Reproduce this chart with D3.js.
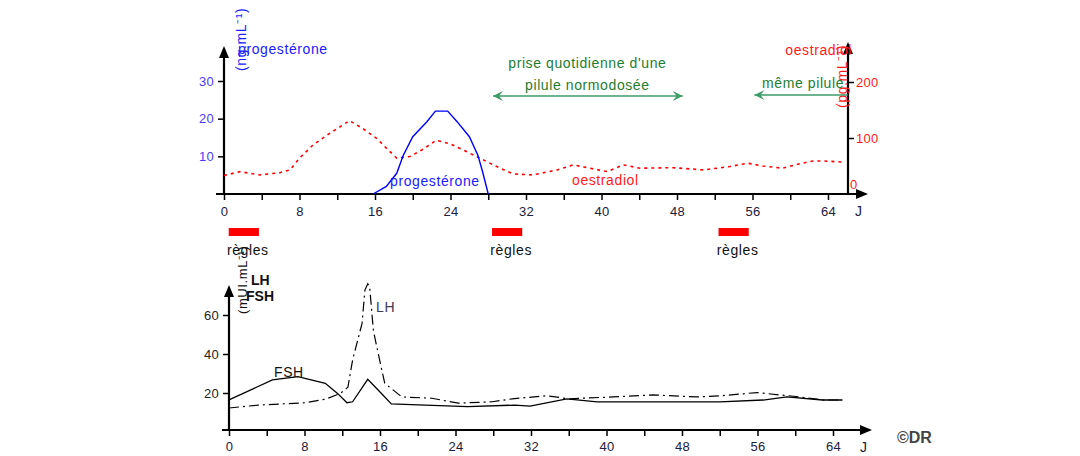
<!DOCTYPE html>
<html>
<head>
<meta charset="utf-8">
<script src="https://cdn.jsdelivr.net/npm/d3@7"></script>
<style>
body { margin: 0; background: #fff; }
svg { font-family: "Liberation Sans", Arial, sans-serif; font-size: 14px; letter-spacing: 0.6px; }
svg .tick text { letter-spacing: 0.3px; }
</style>
</head>
<body>
<svg class="chart" width="1080" height="456"></svg>
<script>

// top panel: ovarian hormones (days of cycle)
var progDays = [15.8, 17.2, 18.3, 19, 20, 21.5, 22.4, 23.7, 24.7, 26, 26.9, 27.4, 28];
var progVals = [0, 2, 5.5, 10.3, 15.2, 19.2, 22, 22, 19.2, 15.2, 10.3, 5.9, 0];

var oesDays = [0, 1.7, 3.8, 5.9, 7, 8, 9.4, 10.9, 12.3, 13.3, 14.7, 16.2, 17.2, 18.3, 19.7, 21, 22.5, 23.9, 25.3, 27.1, 28.9, 30.6, 32.7, 35.3, 37, 38.8, 40.6, 42.3, 44.1, 47.6, 50.8, 53.6, 55.5, 57.1, 59.2, 61, 62.4, 63.5, 65.6];
var oesVals = [33, 40, 34, 38, 43, 64, 87, 105, 120, 131, 117, 99, 82, 64, 67, 79, 96, 90, 79, 64, 49, 36, 34, 43, 52, 46, 40, 52, 46, 47, 43, 49, 55, 50, 46, 54, 59, 59, 57];

// bottom panel: pituitary hormones
var fshDays = [0, 4.6, 7.3, 10.2, 11.5, 12.5, 13.1, 14.7, 15.8, 17.2, 20.8, 25.3, 30.3, 31.9, 35.8, 39, 45, 52, 56.6, 59.1, 62.9, 65];
var fshVals = [16.5, 26.7, 28.4, 25, 19.8, 15, 15.5, 27, 21.5, 14.4, 13.8, 13, 13.8, 13.3, 17, 15.5, 15.5, 15.5, 16.4, 18, 16.4, 16.4];

var lhDays = [0, 3.1, 8, 10.2, 11.8, 12.6, 13.1, 14.1, 14.4, 14.7, 14.9, 15.3, 15.8, 16.5, 18.3, 21.5, 24.3, 27.9, 30, 33.7, 36, 40.7, 44.9, 49.6, 52, 54.9, 56, 58.4, 60.5, 63, 65];
var lhVals = [12.3, 13.8, 15, 16.8, 19.8, 23, 37, 55.7, 72.8, 76, 74.5, 52, 40.5, 25, 18, 17.3, 14.8, 15.5, 17, 18.6, 17, 18, 19, 18, 18.5, 19.8, 20.2, 19, 18, 16.4, 16.4];

// periods (règles) and pill intake, in days
var reglesStart = [0.5, 28.4, 52.4];
var reglesEnd = [3.7, 31.6, 55.6];
var pillStart = [28.5, 56.2];
var pillEnd = [48.6, 66.1];

var dayTicks = d3.range(0, 65, 4);
var progTicks = [10, 20, 30];
var oesTicks = [0, 100, 200];
var gonTicks = [20, 40, 60];

var svg = d3.select(".chart");

var xTop = d3.scaleLinear().domain([0, 64]).range([224, 828]);
var yProg = d3.scaleLinear().domain([0, 30]).range([194, 81]);
var yOes = d3.scaleLinear().domain([0, 200]).range([194, 82]);

var xBot = d3.scaleLinear().domain([0, 64]).range([229, 833]);
var yGon = d3.scaleLinear().domain([0, 60]).range([432, 315]);

function arrowUp(x, y) {
	svg.append("path").attr("d", "M" + x + "," + y + "l-5,12l10,0z").attr("fill", "#000");
}
function arrowRight(x, y) {
	svg.append("path").attr("d", "M" + x + "," + y + "l-12,-5l0,10z").attr("fill", "#000");
}
function axisLine(x1, y1, x2, y2) {
	svg.append("line").attr("x1", x1).attr("y1", y1).attr("x2", x2).attr("y2", y2)
		.attr("stroke", "#000").attr("stroke-width", 2.2);
}
function styleAxis(g, color) {
	g.select(".domain").remove();
	g.selectAll(".tick line").attr("stroke", "#000").attr("stroke-width", 1.5);
	g.selectAll(".tick text").attr("fill", color).style("font-size", "13px")
		.style("font-family", "'Liberation Sans', Arial, sans-serif");
}
function dayFormat(d) { return d % 8 == 0 ? d : ""; }

// ---------- top panel ----------
var gx = svg.append("g").attr("transform", "translate(0,194)")
	.call(d3.axisBottom(xTop).tickValues(dayTicks).tickSize(6).tickPadding(7).tickFormat(dayFormat));
styleAxis(gx, "#1c2040");

var gl = svg.append("g").attr("transform", "translate(224,0)")
	.call(d3.axisLeft(yProg).tickValues(progTicks).tickSize(6).tickPadding(4));
styleAxis(gl, "#4a3cf0");

var gr = svg.append("g").attr("transform", "translate(848,0)")
	.call(d3.axisRight(yOes).tickValues(oesTicks).tickSize(6).tickPadding(2));
styleAxis(gr, "#ff1a1a");
gr.selectAll(".tick").filter(function(d) { return d == 0; }).select("line").remove();
gr.selectAll(".tick text").filter(function(d) { return d == 0; }).attr("x", 2).attr("dy", "-0.4em");

axisLine(216, 194, 860, 194);
arrowRight(868, 194);
axisLine(224, 194, 224, 56);
arrowUp(224, 46);
axisLine(848, 194, 848, 52);
arrowUp(848, 42);

var oesLine = d3.line().x(function(d, i) { return xTop(oesDays[i]); }).y(function(d) { return yOes(d); });
svg.append("path").datum(oesVals).attr("d", oesLine)
	.attr("fill", "none").attr("stroke", "#ff0000").attr("stroke-width", 1.6).attr("stroke-dasharray", "3,4");

var progLine = d3.line().x(function(d, i) { return xTop(progDays[i]); }).y(function(d) { return yProg(d); });
svg.append("path").datum(progVals).attr("d", progLine)
	.attr("fill", "none").attr("stroke", "#0000ff").attr("stroke-width", 1.4);

svg.append("text").attr("x", 390).attr("y", 186).attr("fill", "#2020ff").text("progestérone");
svg.append("text").attr("x", 572).attr("y", 185).attr("fill", "#ff1a1a").text("oestradiol");

svg.append("text").attr("x", 238).attr("y", 54).attr("fill", "#2020ff").text("progestérone");
svg.append("text").attr("transform", "translate(246,71) rotate(-90)").attr("fill", "#2020ff")
	.text("(ng.mL⁻¹)");
svg.append("text").attr("x", 852).attr("y", 55).attr("text-anchor", "end").attr("fill", "#ff1a1a").text("oestradiol");
svg.append("text").attr("transform", "translate(847,108) rotate(-90)").attr("fill", "#ff1a1a")
	.text("(pg.mL⁻¹)");

// pill arrows
var green = "#3c9a68";
function greenArrow(x1, x2, y, both) {
	svg.append("line").attr("x1", x1).attr("y1", y).attr("x2", x2).attr("y2", y)
		.attr("stroke", green).attr("stroke-width", 1.3);
	svg.append("path").attr("d", "M" + x1 + "," + y + "l10,-5l-4,5l4,5z").attr("fill", green);
	if (both) svg.append("path").attr("d", "M" + x2 + "," + y + "l-10,-5l4,5l-4,5z").attr("fill", green);
}
greenArrow(xTop(pillStart[0]), xTop(pillEnd[0]), 96, true);
greenArrow(xTop(pillStart[1]), xTop(pillEnd[1]), 95, false);

svg.append("text").attr("x", xTop(38.5)).attr("y", 68).attr("text-anchor", "middle").attr("fill", "#1d7d30")
	.text("prise quotidienne d'une");
svg.append("text").attr("x", xTop(38.5)).attr("y", 90).attr("text-anchor", "middle").attr("fill", "#1d7d30")
	.text("pilule normodosée");
svg.append("text").attr("x", 762).attr("y", 88).attr("fill", "#1d7d30").text("même pilule");

// règles
svg.selectAll(".regle").data(reglesStart).enter().append("rect")
	.attr("class", "regle")
	.attr("x", function(d) { return xTop(d); })
	.attr("y", 228)
	.attr("width", function(d, i) { return xTop(reglesEnd[i]) - xTop(d); })
	.attr("height", 8)
	.attr("fill", "#ff0000");
svg.selectAll(".regleLabel").data(reglesStart).enter().append("text")
	.attr("x", function(d, i) { return (xTop(d) + xTop(reglesEnd[i])) / 2 + 4; })
	.attr("y", 255)
	.attr("text-anchor", "middle")
	.attr("fill", "#111")
	.text("règles");

// ---------- bottom panel ----------
var bx = svg.append("g").attr("transform", "translate(0,430)")
	.call(d3.axisBottom(xBot).tickValues(dayTicks).tickSize(6).tickPadding(6).tickFormat(dayFormat));
styleAxis(bx, "#1c2040");

var by = svg.append("g").attr("transform", "translate(229,0)")
	.call(d3.axisLeft(yGon).tickValues(gonTicks).tickSize(6).tickPadding(4));
styleAxis(by, "#222");

axisLine(222, 430, 864, 430);
arrowRight(872, 430);
axisLine(229, 430, 229, 296);
arrowUp(229, 285);

var fshLine = d3.line().x(function(d, i) { return xBot(fshDays[i]); }).y(function(d) { return yGon(d); });
svg.append("path").datum(fshVals).attr("d", fshLine)
	.attr("fill", "none").attr("stroke", "#000").attr("stroke-width", 1.3);

var lhLine = d3.line().x(function(d, i) { return xBot(lhDays[i]); }).y(function(d) { return yGon(d); });
svg.append("path").datum(lhVals).attr("d", lhLine)
	.attr("fill", "none").attr("stroke", "#000").attr("stroke-width", 1.2).attr("stroke-dasharray", "10,4,2,4");

svg.append("text").attr("transform", "translate(247,314) rotate(-90)").attr("fill", "#111")
	.style("font-size", "13px").text("(mUI.mL⁻¹)");
svg.append("text").attr("x", 251).attr("y", 285).attr("fill", "#111").style("font-weight", "bold").style("letter-spacing", "0px").text("LH");
svg.append("text").attr("x", 246).attr("y", 301).attr("fill", "#111").style("font-weight", "bold").style("letter-spacing", "0px").text("FSH");
svg.append("text").attr("x", 274).attr("y", 377).attr("fill", "#111").text("FSH");
svg.append("text").attr("x", 376).attr("y", 312).attr("fill", "#3a3a50").text("LH");

svg.append("text").attr("x", 860).attr("y", 452).attr("fill", "#1c2040").text("J");
svg.append("text").attr("x", 855).attr("y", 216).attr("fill", "#1c2040").text("J");

svg.append("text").attr("x", 897).attr("y", 443).attr("fill", "#444").style("font-weight", "bold")
	.style("font-size", "16px").style("letter-spacing", "0px").text("©DR");

</script>
</body>
</html>
